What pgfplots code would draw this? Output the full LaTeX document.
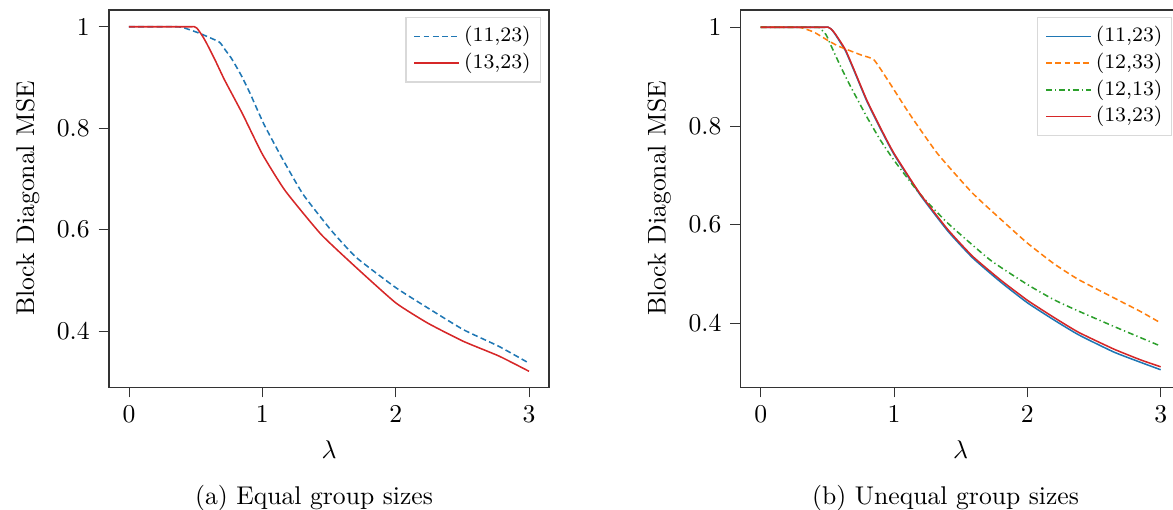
\documentclass[border=0pt]{standalone}
\usepackage{pgfplots}
\pgfplotsset{compat=1.18}

\definecolor{tblue}{HTML}{1F77B4}
\definecolor{torange}{HTML}{FF7F0E}
\definecolor{tgreen}{HTML}{2CA02C}
\definecolor{tred}{HTML}{D62728}

\def\pxunit{0.39pt}

\tikzset{
  dsh/.style={dash pattern=on 2.3pt off 1.3pt},
  dshdot/.style={dash pattern=on 2.3pt off 1.2pt on 0.5pt off 1.2pt},
}

\pgfplotsset{
  mse/.style={
    scale only axis,
    width=440*\pxunit,
    height=377*\pxunit,
    anchor=south west,
    xmin=-0.15, xmax=3.15,
    xtick={0,1,2,3},
    ytick={0.4,0.6,0.8,1},
    tick pos=left,
    tick align=outside,
    major tick length=4pt,
    axis line style={black!80},
    tick style={black!80},
    xlabel={$\lambda$},
    ylabel={Block Diagonal MSE},
    every axis plot/.append style={line width=0.6pt, smooth, tension=0.3},
  },
}

% one legend row: style, y (axis description), label
\newcommand\legrow[3]{%
  \draw[#1, line width=0.6pt] (axis description cs:0.694,#2) -- (axis description cs:0.795,#2);
  \node[anchor=west, font=\footnotesize, inner sep=0pt] at (axis description cs:0.806,#2) {#3};
}

\begin{document}
\begin{tikzpicture}
\useasboundingbox (0,0) rectangle ({1173*\pxunit},{-509*\pxunit});

% (a) equal group sizes
\begin{axis}[mse, ymin=0.29, ymax=1.033, at={({109*\pxunit},{-387*\pxunit})}]
\addplot[color=tblue, dsh] coordinates {
  (0,1) (0.2,1) (0.36,1) (0.40,0.999) (0.53,0.987) (0.676,0.970) (0.72,0.955) (0.77,0.937)
  (0.84,0.905) (0.904,0.871) (1.01,0.809) (1.144,0.743) (1.305,0.670)
  (1.519,0.598) (1.706,0.545) (2.0,0.486) (2.24,0.446) (2.508,0.403)
  (2.775,0.370) (3,0.337)
};
\addplot[color=tred, solid] coordinates {
  (0,1) (0.25,1) (0.47,1) (0.49,1) (0.51,0.997) (0.53,0.990) (0.555,0.980) (0.583,0.967)
  (0.65,0.932) (0.717,0.895) (0.85,0.829) (1.0,0.749) (1.171,0.677)
  (1.44,0.591) (1.706,0.525) (2.0,0.456) (2.24,0.416) (2.508,0.380)
  (2.775,0.351) (3,0.321)
};
\draw[gray!30, fill=white] (axis description cs:0.675,0.809) rectangle (axis description cs:0.98,0.981);
\legrow{tblue, dsh}{0.930}{(11,23)}
\legrow{tred, solid}{0.859}{(13,23)}
\end{axis}

% (b) unequal group sizes
\begin{axis}[mse, ymin=0.27, ymax=1.035, at={({740.7*\pxunit},{-387*\pxunit})}]
\addplot[color=tblue, solid] coordinates {
  (0,1) (0.25,1) (0.48,1) (0.505,1) (0.53,0.996) (0.558,0.986) (0.60,0.968) (0.638,0.951)
  (0.70,0.912) (0.796,0.850) (0.90,0.793) (1.0,0.742) (1.193,0.661)
  (1.405,0.586) (1.59,0.532) (1.80,0.483) (2.0,0.441) (2.2,0.406)
  (2.384,0.376) (2.648,0.341) (2.85,0.320) (3,0.305)
};
\addplot[color=torange, dsh] coordinates {
  (0,1) (0.15,1) (0.28,1) (0.307,0.999) (0.40,0.990) (0.505,0.973) (0.58,0.962) (0.664,0.953)
  (0.76,0.943) (0.849,0.934) (0.955,0.892) (1.114,0.825) (1.325,0.744)
  (1.59,0.663) (1.855,0.597) (2.0,0.562) (2.2,0.520) (2.384,0.488)
  (2.648,0.451) (2.85,0.423) (3,0.40)
};
\addplot[color=tgreen, dshdot] coordinates {
  (0,1) (0.22,1) (0.42,1) (0.44,0.999) (0.49,0.985) (0.532,0.960) (0.60,0.920) (0.664,0.885)
  (0.796,0.818) (0.90,0.770) (1.0,0.730) (1.19,0.663) (1.405,0.602)
  (1.72,0.528) (2.0,0.478) (2.2,0.447) (2.384,0.424) (2.648,0.393)
  (2.85,0.370) (3,0.353)
};
\addplot[color=tred, solid] coordinates {
  (0,1) (0.25,1) (0.48,1) (0.505,1) (0.53,0.996) (0.558,0.987) (0.60,0.970) (0.638,0.953)
  (0.70,0.914) (0.796,0.852) (0.90,0.795) (1.0,0.744) (1.193,0.663)
  (1.405,0.589) (1.59,0.535) (1.80,0.487) (2.0,0.446) (2.2,0.411)
  (2.384,0.381) (2.648,0.347) (2.85,0.325) (3,0.311)
};
\draw[gray!30, fill=white] (axis description cs:0.674,0.666) rectangle (axis description cs:0.979,0.981);
\legrow{tblue, solid}{0.930}{(11,23)}
\legrow{torange, dsh}{0.859}{(12,33)}
\legrow{tgreen, dshdot}{0.788}{(12,13)}
\legrow{tred, solid}{0.717}{(13,23)}
\end{axis}

\node[anchor=base] at ({314*\pxunit},{-504*\pxunit}) {(a) Equal group sizes};
\node[anchor=base] at ({945.6*\pxunit},{-504*\pxunit}) {(b) Unequal group sizes};
\end{tikzpicture}
\end{document}
